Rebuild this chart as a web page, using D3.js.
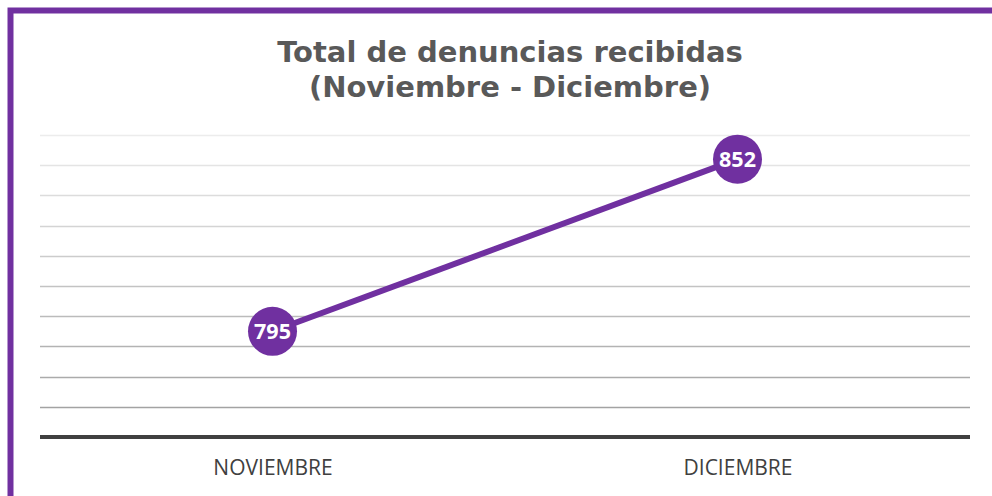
<!DOCTYPE html>
<html>
<head>
<meta charset="utf-8">
<script src="https://cdn.jsdelivr.net/npm/d3@7"></script>
<style>
  body { margin: 0; background: #fff; }
  svg { display: block; }
</style>
</head>
<body>
<div id="chart"></div>
<script>
// data
const months = ["NOVIEMBRE", "DICIEMBRE"];
const totals = [795, 852];
const titleLines = ["Total de denuncias recibidas", "(Noviembre - Diciembre)"];
const yDomain = [760, 860];

const width = 992, height = 496;
const margin = {top: 135, right: 22, bottom: 59, left: 40};
const purple = "#7030a0";

const svg = d3.select("#chart").append("svg")
    .attr("width", width)
    .attr("height", height);

// frame (left + top only visible)
svg.append("path")
    .attr("d", `M10.5,${height} V10.5 H${width}`)
    .attr("fill", "none")
    .attr("stroke", purple)
    .attr("stroke-width", 6);

// title
svg.append("text")
    .attr("x", 510)
    .attr("y", 62)
    .attr("text-anchor", "middle")
    .attr("font-family", "DejaVu Sans, Verdana, sans-serif")
    .attr("font-weight", "bold")
    .attr("font-size", 29)
    .attr("fill", "#595959")
    .selectAll("tspan")
    .data(titleLines)
    .join("tspan")
    .attr("x", 510)
    .attr("dy", (d, i) => i === 0 ? 0 : 35)
    .text(d => d);

const x = d3.scalePoint()
    .domain(months)
    .range([margin.left, width - margin.right])
    .padding(0.5);

const y = d3.scaleLinear()
    .domain(yDomain)
    .range([height - margin.bottom, margin.top]);

// gridlines: lighter toward the top
const gridTicks = d3.range(yDomain[0] + 10, yDomain[1] + 1, 10);
const gridColor = d3.scaleLinear()
    .domain([gridTicks[0], gridTicks[gridTicks.length - 1]])
    .range(["#a3a3a3", "#ececec"]);

svg.append("g")
    .selectAll("line")
    .data(gridTicks)
    .join("line")
    .attr("x1", margin.left)
    .attr("x2", width - margin.right)
    .attr("y1", d => Math.round(y(d)) + 0.5)
    .attr("y2", d => Math.round(y(d)) + 0.5)
    .attr("stroke", d => gridColor(d))
    .attr("stroke-width", 1.5);

// baseline
svg.append("line")
    .attr("x1", margin.left)
    .attr("x2", width - margin.right)
    .attr("y1", y(yDomain[0]))
    .attr("y2", y(yDomain[0]))
    .attr("stroke", "#404040")
    .attr("stroke-width", 4);

// x axis labels
const xAxis = d3.axisBottom(x).tickSize(0).tickPadding(0);
const gx = svg.append("g")
    .attr("transform", `translate(0,${y(yDomain[0])})`)
    .call(xAxis);
gx.select(".domain").remove();
gx.selectAll("text")
    .attr("y", 38)
    .attr("dy", 0)
    .attr("font-family", "Open Sans, Liberation Sans, sans-serif")
    .attr("font-size", 21)
    .attr("fill", "#404040");

// line
const points = months.map((m, i) => ({month: m, value: totals[i]}));
svg.append("path")
    .datum(points)
    .attr("fill", "none")
    .attr("stroke", purple)
    .attr("stroke-width", 6)
    .attr("d", d3.line().x(d => x(d.month)).y(d => y(d.value)));

// markers
const marks = svg.append("g")
    .selectAll("g")
    .data(points)
    .join("g")
    .attr("transform", d => `translate(${x(d.month)},${y(d.value)})`);

marks.append("circle")
    .attr("r", 24.5)
    .attr("fill", purple);

marks.append("text")
    .attr("text-anchor", "middle")
    .attr("dy", "0.36em")
    .attr("font-family", "Open Sans, Liberation Sans, sans-serif")
    .attr("font-weight", "bold")
    .attr("font-size", 21.5)
    .attr("fill", "#fff")
    .text(d => d.value);
</script>
</body>
</html>
